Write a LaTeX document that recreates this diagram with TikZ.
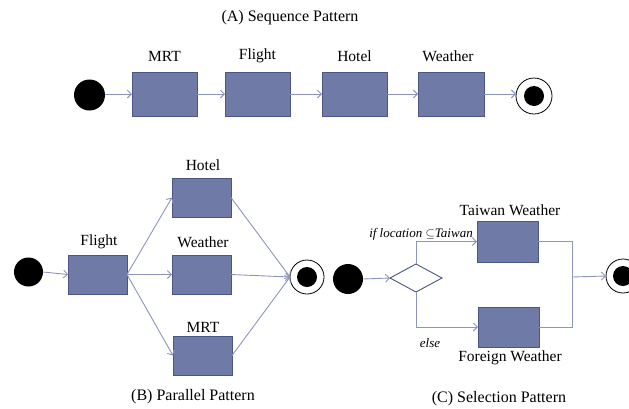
\documentclass[tikz,border=0pt]{standalone}
\usepackage{fontspec}
\setmainfont{Liberation Serif}
\usetikzlibrary{arrows.meta,shapes.geometric}
\definecolor{boxfill}{HTML}{6F7AA7}
\definecolor{boxline}{HTML}{4B5687}
\definecolor{arrline}{HTML}{8C95C0}
\definecolor{dialine}{HTML}{4A5585}
\tikzset{
  x=1pt, y=-1pt,
  task/.style={draw=boxline, fill=boxfill, line width=0.9pt, inner sep=0pt, outer sep=0pt},
  startnode/.style={circle, fill=black, inner sep=0pt, outer sep=0pt},
  endnode/.style={circle, draw=black, line width=0.8pt, fill=white, inner sep=0pt, outer sep=0pt, minimum size=#1},
  arr/.style={draw=arrline, line width=0.9pt, -{Straight Barb[length=4pt,width=8pt]}},
  ln/.style={draw=arrline, line width=0.9pt},
  lbl/.style={font=\fontsize{15.5}{18}\selectfont, inner sep=0pt},
  ttl/.style={font=\fontsize{16}{19}\selectfont, inner sep=0pt},
  cond/.style={font=\fontsize{13}{15}\selectfont\itshape, inner sep=0pt},
}
\begin{document}
\begin{tikzpicture}
\useasboundingbox (0,0) rectangle (629,408);
% ---------- (A) Sequence ----------
\node[ttl] (ta) at (290,18) {(A) Sequence Pattern};
\node[startnode, minimum size=31pt] (a0) at (89.5,95) {};
\node[task, minimum width=65pt, minimum height=44pt] (a1) at (164.5,94) {};
\node[task, minimum width=65pt, minimum height=44pt] (a2) at (257.5,94) {};
\node[task, minimum width=65pt, minimum height=44pt] (a3) at (354.5,94) {};
\node[task, minimum width=66pt, minimum height=44pt] (a4) at (451,94) {};
\node[endnode=36pt] (a5) at (534,96) {};
\fill[black] (a5.center) circle (10);
\node[lbl] (la1) at (164.5,56) {MRT};
\node[lbl] (la2) at (257.5,56) {Flight};
\node[lbl] (la3) at (354.5,56) {Hotel};
\node[lbl] (la4) at (448,56) {Weather};
\draw[arr] (a0.east |- a1.west) -- (a1.west);
\draw[arr] (a1.east) -- (a2.west);
\draw[arr] (a2.east) -- (a3.west);
\draw[arr] (a3.east) -- (a4.west);
\draw[arr] (a4.east) -- (a4.east -| a5.west);
% ---------- (B) Parallel ----------
\node[ttl] (tb) at (193,397) {(B) Parallel Pattern};
\node[startnode, minimum size=29pt] (b0) at (28.5,272) {};
\node[task, minimum width=59pt, minimum height=39pt] (b1) at (97.5,274.5) {};
\node[task, minimum width=59pt, minimum height=39pt] (b2) at (201.5,197.5) {};
\node[task, minimum width=59pt, minimum height=39pt] (b3) at (201.5,274.5) {};
\node[task, minimum width=59pt, minimum height=39pt] (b4) at (202.5,355.5) {};
\node[endnode=34pt] (b5) at (307,277) {};
\fill[black] (b5.center) circle (10);
\node[lbl] (lb1) at (99,242) {Flight};
\node[lbl] (lb2) at (203,165) {Hotel};
\node[lbl] (lb3) at (203,242) {Weather};
\node[lbl] (lb4) at (203,327) {MRT};
\draw[arr] (b0.east) -- (b1.west);
\draw[arr] (b1.east) -- (b2.west);
\draw[arr] (b1.east) -- (b3.west);
\draw[arr] (b1.east) -- (b4.west);
\draw[arr] (b2.east) -- (b5.west);
\draw[arr] (b3.east) -- (b5.west);
\draw[arr] (b4.east) -- (b5.west);
% ---------- (C) Selection ----------
\node[ttl] (tc) at (499,399) {(C) Selection Pattern};
\node[startnode, minimum size=30pt] (c0) at (348,279) {};
\node[diamond, draw=dialine, line width=0.9pt, inner sep=0pt, outer sep=0pt,
      minimum width=52pt, minimum height=28pt, aspect=1.86] (c1) at (416,278) {};
\node[task, minimum width=61pt, minimum height=41pt] (c2) at (507.5,241.5) {};
\node[task, minimum width=61pt, minimum height=40pt] (c3) at (508.5,327) {};
\node[endnode=34pt] (c4) at (623,276) {};
\fill[black] (c4.center) circle (10);
\coordinate (j) at (572,277);
\node[lbl] (lc2) at (510,210) {Taiwan Weather};
\node[lbl] (lc3) at (510,358) {Foreign Weather};
\node[cond] (lif) at (421,234) {if location $\subseteq$Taiwan};
\node[cond] (lelse) at (430,343) {else};
\draw[arr] (c0.east) -- (c1.west);
\draw[arr] (c1.north) |- (c2.west);
\draw[arr] (c1.south) |- (c3.west);
\draw[ln] (c2.east) -- (c2.east -| j) -- (c3.east -| j) -- (c3.east);
\draw[arr] (j) -- (c4.west);
\end{tikzpicture}
\end{document}
